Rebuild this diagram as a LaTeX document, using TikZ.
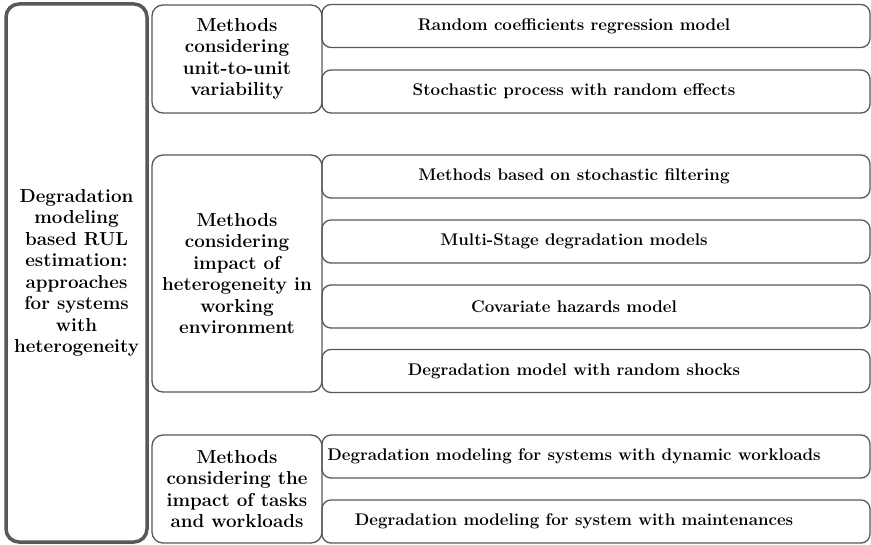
\documentclass[tikz,border=0pt]{standalone}
\usepackage{amsmath}
\usepackage{amssymb}
\usepackage{tikz}

\definecolor{edgegray}{RGB}{88,88,88}

\begin{document}
\begin{tikzpicture}[x=1pt,y=-1pt]
      \tikzstyle{rootbox} = [draw=edgegray,line width=3.5pt,rounded corners=13pt,minimum width=141pt,minimum height=538pt,align=center,inner sep=1pt,font=\bfseries\fontsize{18.8}{21.5}\selectfont]
      \tikzstyle{groupbox} = [draw=edgegray,line width=1.3pt,rounded corners=11pt,minimum width=170pt,align=center,inner sep=1pt,font=\bfseries\fontsize{18.8}{21.5}\selectfont]
      \tikzstyle{leafbox} = [draw=edgegray,line width=1.3pt,rounded corners=9pt,minimum width=548pt,minimum height=43pt,inner sep=1pt,font=\bfseries\fontsize{16.9}{20}\selectfont]

      \useasboundingbox (0,0) rectangle (871,545);

      \node[rootbox](root) at (76.5,273) {Degradation\\modeling\\based RUL\\estimation:\\approaches\\for systems\\with\\heterogeneity};

      \node[groupbox,minimum height=108pt](unit) at (237,59) {Methods\\considering\\unit-to-unit\\variability};
      \node[groupbox,minimum height=237pt](env) at (237,273.5) {Methods\\considering\\impact of\\heterogeneity in\\working\\environment};
      \node[groupbox,minimum height=108pt](task) at (237,489) {Methods\\considering the\\impact of tasks\\and workloads};

      \def\leaves{Random coefficients regression model/26,
        Stochastic process with random effects/91.5,
        Methods based on stochastic filtering/176.5,
        Multi-Stage degradation models/241.5,
        Covariate hazards model/306.5,
        Degradation model with random shocks/371,
        Degradation modeling for systems with dynamic workloads/456.5,
        Degradation modeling for system with maintenances/521.5}
      \foreach \t/\y [count=\i] in \leaves {
        \node[leafbox](leaf\i) at (596,\y) {\t\hspace*{44pt}};
      }

    \end{tikzpicture}
\end{document}
